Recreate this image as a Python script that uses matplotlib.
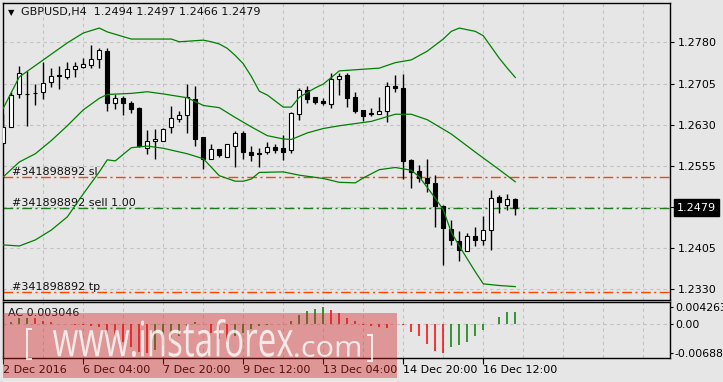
import matplotlib.pyplot as plt
import numpy as np
from matplotlib.patches import Rectangle, PathPatch
from matplotlib.textpath import TextPath
from matplotlib.font_manager import FontProperties
from matplotlib.transforms import Affine2D, IdentityTransform, blended_transform_factory

# GBPUSD H4 candles
opens = [1.2596, 1.2626, 1.2685, 1.2686, 1.2688, 1.2689, 1.2707, 1.2720, 1.2717, 1.2731,
         1.2735, 1.2739, 1.2749, 1.2764, 1.2669, 1.2678, 1.2670, 1.2660, 1.2588, 1.2600,
         1.2601, 1.2625, 1.2641, 1.2647, 1.2677, 1.2607, 1.2568, 1.2585, 1.2572, 1.2592,
         1.2614, 1.2580, 1.2578, 1.2580, 1.2589, 1.2587, 1.2584, 1.2649, 1.2693, 1.2680,
         1.2674, 1.2667, 1.2713, 1.2720, 1.2680, 1.2656, 1.2652, 1.2650, 1.2654, 1.2701,
         1.2696, 1.2566, 1.2546, 1.2533, 1.2523, 1.2482, 1.2440, 1.2418, 1.2400, 1.2427,
         1.2419, 1.2439, 1.2498, 1.2484, 1.2494]
highs = [1.2650, 1.2690, 1.2737, 1.2728, 1.2705, 1.2744, 1.2733, 1.2737, 1.2744, 1.2744,
         1.2751, 1.2775, 1.2769, 1.2769, 1.2686, 1.2683, 1.2674, 1.2663, 1.2620, 1.2623,
         1.2624, 1.2664, 1.2655, 1.2704, 1.2700, 1.2608, 1.2595, 1.2586, 1.2595, 1.2619,
         1.2619, 1.2592, 1.2587, 1.2598, 1.2595, 1.2611, 1.2653, 1.2696, 1.2700, 1.2681,
         1.2679, 1.2725, 1.2725, 1.2724, 1.2689, 1.2657, 1.2660, 1.2681, 1.2708, 1.2721,
         1.2722, 1.2567, 1.2557, 1.2568, 1.2538, 1.2483, 1.2456, 1.2436, 1.2432, 1.2444,
         1.2464, 1.2511, 1.2502, 1.2504, 1.2497]
lows = [1.2596, 1.2626, 1.2679, 1.2628, 1.2665, 1.2677, 1.2699, 1.2695, 1.2713, 1.2716,
        1.2734, 1.2734, 1.2734, 1.2655, 1.2659, 1.2648, 1.2652, 1.2589, 1.2577, 1.2568,
        1.2600, 1.2615, 1.2635, 1.2615, 1.2592, 1.2549, 1.2567, 1.2571, 1.2571, 1.2553,
        1.2568, 1.2563, 1.2552, 1.2577, 1.2578, 1.2566, 1.2578, 1.2639, 1.2669, 1.2668,
        1.2665, 1.2660, 1.2684, 1.2662, 1.2651, 1.2637, 1.2645, 1.2649, 1.2634, 1.2690,
        1.2531, 1.2514, 1.2526, 1.2508, 1.2444, 1.2374, 1.2411, 1.2382, 1.2399, 1.2409,
        1.2411, 1.2402, 1.2470, 1.2475, 1.2466]
closes = [1.2626, 1.2684, 1.2725, 1.2685, 1.2687, 1.2706, 1.2719, 1.2718, 1.2731, 1.2736,
          1.2741, 1.2749, 1.2766, 1.2669, 1.2678, 1.2669, 1.2659, 1.2591, 1.2600, 1.2604,
          1.2623, 1.2642, 1.2647, 1.2680, 1.2604, 1.2568, 1.2585, 1.2574, 1.2594, 1.2614,
          1.2581, 1.2575, 1.2577, 1.2589, 1.2584, 1.2581, 1.2651, 1.2694, 1.2677, 1.2671,
          1.2669, 1.2713, 1.2718, 1.2678, 1.2655, 1.2646, 1.2649, 1.2654, 1.2700, 1.2697,
          1.2564, 1.2544, 1.2532, 1.2523, 1.2481, 1.2441, 1.2419, 1.2402, 1.2427, 1.2419,
          1.2438, 1.2496, 1.2490, 1.2494, 1.2479]

# Bollinger bands (candle index, price)
upper_idx = [0, 2, 5, 8, 10, 12, 13, 16, 21, 22, 25, 26, 27, 28, 29, 30, 31, 32, 33, 35,
             36, 37, 39, 40, 42, 45, 47, 49, 51, 53, 55, 56, 57, 59, 60, 62, 63, 64]
upper_band = [1.2660, 1.2717, 1.2748, 1.2779, 1.2797, 1.2806, 1.2799, 1.2786, 1.2786, 1.2781,
              1.2784, 1.2781, 1.2777, 1.2769, 1.2756, 1.2741, 1.2718, 1.2691, 1.2684, 1.2662,
              1.2662, 1.2680, 1.2697, 1.2704, 1.2728, 1.2731, 1.2733, 1.2743, 1.2748, 1.2764,
              1.2786, 1.2800, 1.2806, 1.2800, 1.2792, 1.2751, 1.2733, 1.2716]
mid_idx = [0, 2, 4, 6, 8, 10, 12, 13, 16, 18, 20, 23, 25, 27, 29, 31, 33, 35, 36, 38,
           40, 42, 46, 49, 51, 53, 56, 59, 62, 64]
mid_band = [1.2535, 1.2562, 1.2577, 1.2601, 1.2628, 1.2657, 1.2678, 1.2685, 1.2687, 1.2690,
            1.2686, 1.2679, 1.2665, 1.2661, 1.2643, 1.2626, 1.2610, 1.2604, 1.2603, 1.2615,
            1.2623, 1.2628, 1.2636, 1.2649, 1.2649, 1.2639, 1.2613, 1.2580, 1.2548, 1.2526]
low_idx = [0, 2, 4, 6, 8, 10, 12, 13, 14, 16, 18, 20, 23, 25, 27, 29, 30, 31, 32, 35,
           37, 40, 42, 44, 45, 47, 49, 51, 52, 54, 55, 56, 57, 59, 60, 62, 64]
low_band = [1.2411, 1.2409, 1.2420, 1.2438, 1.2462, 1.2504, 1.2544, 1.2566, 1.2564, 1.2588,
            1.2591, 1.2587, 1.2577, 1.2568, 1.2537, 1.2527, 1.2527, 1.2531, 1.2543, 1.2544,
            1.2538, 1.2532, 1.2525, 1.2524, 1.2533, 1.2548, 1.2552, 1.2547, 1.2535, 1.2496,
            1.2475, 1.2434, 1.2409, 1.2362, 1.2340, 1.2337, 1.2335]

# Accelerator oscillator
ac_values = [0.00023, 0.00056, 0.00151, 0.00164, 0.00150, 0.00074, 0.00052, 0.00016, 0.00007, -0.00007,
             -0.00016, -0.00029, -0.00074, -0.00263, -0.00299, -0.00434, -0.00547, -0.00653, -0.00686, -0.00623,
             -0.00511, -0.00434, -0.00286, -0.00030, 0.00052, 0.00011, -0.00209, -0.00344, -0.00434, -0.00286,
             -0.00209, -0.00119, -0.00034, -0.00011, 0.00007, 0.00018, 0.00090, 0.00225, 0.00315, 0.00371,
             0.004263, 0.00353, 0.00277, 0.00164, 0.00074, -0.00011, -0.00029, -0.00068, -0.00090, 0.00003,
             -0.00011, -0.00173, -0.00286, -0.00473, -0.00646, -0.00688, -0.00547, -0.00488, -0.00412, -0.00277,
             -0.00128, 0.00011, 0.00173, 0.00299, 0.003046]

price_ticks = [1.2780, 1.2705, 1.2630, 1.2555, 1.2480, 1.2405, 1.2330]
price_labels = ['1.2780', '1.2705', '1.2630', '1.2555', '', '1.2405', '1.2330']
ac_ticks = [0.004263, 0.0, -0.00688]
ac_labels = ['0.004263', '0.00', '-0.00688']
date_idx = [0, 10, 20, 30, 40, 50, 60]
date_labels = ['2 Dec 2016', '6 Dec 04:00', '7 Dec 20:00', '9 Dec 12:00',
               '13 Dec 04:00', '14 Dec 20:00', '16 Dec 12:00']
sl_price = 1.2534
sell_price = 1.2479
tp_price = 1.2325
order_id = '#341898892'

W, H = 723, 382
BG = '#e6e6e6'
GRID = '#c2c2c2'
GREEN = '#008000'
ORANGE = '#ff4500'
DASHDOT = (0, (7, 2.5, 1.5, 2.5))


def fx(px):
    return px / W


def fy(py):
    return 1 - py / H


fig = plt.figure(figsize=(W / 100, H / 100), dpi=100, facecolor=BG)
ax = fig.add_axes([fx(2.7), fy(300), fx(670) - fx(2.7), fy(2.7) - fy(300)], facecolor=BG)
ac = fig.add_axes([fx(2.7), fy(357.7), fx(670) - fx(2.7), fy(302.3) - fy(357.7)], facecolor=BG)

xlim = (-0.075, 83.34)
for a in (ax, ac):
    a.set_xlim(*xlim)
    for sp in a.spines.values():
        sp.set_color('black')
        sp.set_linewidth(1)
    for g in range(5, 84, 5):
        a.axvline(g, color=GRID, lw=0.8, ls=(0, (3, 3)), zorder=0)
    a.yaxis.tick_right()
    a.tick_params(axis='y', direction='out', length=3, width=0.8, pad=2.5,
                  labelsize=8, colors='black')

# main panel
ax.set_ylim(1.23106, 1.28522)
for p in price_ticks:
    ax.axhline(p, color=GRID, lw=0.8, ls=(0, (3, 3)), zorder=0)
ax.set_yticks(price_ticks)
ax.set_yticklabels(price_labels)
ax.set_xticks([])

o = np.array(opens)
h = np.array(highs)
l = np.array(lows)
c = np.array(closes)
idx = np.arange(len(o))
up = c > o
ax.vlines(idx, l, h, color='black', lw=1, zorder=2)
body_lo = np.minimum(o, c)
body_h = np.maximum(np.abs(c - o), 0.00004)
ax.bar(idx[up], body_h[up], bottom=body_lo[up], width=0.55, color='white',
       edgecolor='black', lw=0.8, zorder=3)
ax.bar(idx[~up], body_h[~up], bottom=body_lo[~up], width=0.55, color='black',
       edgecolor='black', lw=0.8, zorder=3)

ax.plot(upper_idx, upper_band, color=GREEN, lw=0.9, zorder=4)
ax.plot(mid_idx, mid_band, color=GREEN, lw=0.9, zorder=4)
ax.plot(low_idx, low_band, color=GREEN, lw=0.9, zorder=4)

ax.axhline(sl_price, color=ORANGE, lw=1, ls=DASHDOT, zorder=1.5)
ax.axhline(tp_price, color=ORANGE, lw=1, ls=DASHDOT, zorder=1.5)
ax.axhline(sell_price, color='#1e7b1e', lw=1, ls=DASHDOT, zorder=1.5)
ax.text(1.05, sl_price, order_id + ' sl', fontsize=8, va='bottom', ha='left', color='#111111')
ax.text(1.05, sell_price, order_id + ' sell 1.00', fontsize=8, va='bottom', ha='left', color='#111111')
ax.text(1.05, tp_price, order_id + ' tp', fontsize=8, va='bottom', ha='left', color='#111111')

yt = blended_transform_factory(ax.transAxes, ax.transData)
ax.text(1.0105, sell_price, '%.4f' % closes[-1], transform=yt, fontsize=8, color='white',
        va='center', ha='left', clip_on=False,
        bbox=dict(boxstyle='square,pad=0.3', facecolor='black', edgecolor='black'))

fig.text(fx(7.5), fy(12.5), '\u25bc', fontsize=6, va='center', ha='left', color='black')
fig.text(fx(21), fy(12.5), 'GBPUSD,H4  %.4f %.4f %.4f %.4f' % (opens[-1], highs[-1], lows[-1], closes[-1]),
         fontsize=8, va='center', ha='left', color='#111111')

# AC panel
ac.set_ylim(-0.0080, 0.0053)
ac.axhline(0, color=GRID, lw=0.8, ls=(0, (3, 3)), zorder=0)
ac_arr = np.array(ac_values)
rising = np.concatenate([[True], ac_arr[1:] > ac_arr[:-1]])
ac_colors = np.where(rising, '#008000', '#ff0000')
ac.vlines(idx, 0, ac_arr, colors=ac_colors, lw=1.1, zorder=2)
ac.set_yticks(ac_ticks)
ac.set_yticklabels(ac_labels)
ac.tick_params(axis='y', length=2.5, pad=1, labelsize=7.8)
ac.set_xticks(date_idx)
ac.set_xticklabels(date_labels, fontsize=8, ha='left')
ac.tick_params(axis='x', direction='out', length=4, width=0.8, pad=1, colors='black')
ac.text(fx(7.5 - 2.7) / fx(667.3), 0.80, 'AC %.6f' % ac_values[-1], transform=ac.transAxes,
        fontsize=8, va='center', ha='left', color='#111111')

# watermark
fig.add_artist(Rectangle((fx(3), fy(378)), fx(397) - fx(3), fy(313) - fy(378),
                         transform=fig.transFigure, facecolor='#d42020', alpha=0.4,
                         edgecolor='none', zorder=5))
wm_font = FontProperties(family='Open Sans')


def wm_text(s, x0, x1, y_top, y_bot):
    tp = TextPath((0, 0), s, size=1, prop=wm_font)
    ext = tp.get_extents()
    tr = (Affine2D().translate(-ext.x0, -ext.y0)
          .scale((x1 - x0) / ext.width, (y_bot - y_top) / ext.height)
          .translate(x0, H - y_bot))
    fig.add_artist(PathPatch(tr.transform_path(tp), facecolor='white', edgecolor='none',
                             alpha=0.8, transform=IdentityTransform(), zorder=6))


wm_text('[', 26, 32, 328, 360)
wm_text('www.instaforex', 53, 293, 319, 357)
wm_text('.com', 295, 360, 341, 357)
wm_text(']', 367, 373, 334, 362)

fig.savefig('out.png', dpi=100, facecolor=BG)
